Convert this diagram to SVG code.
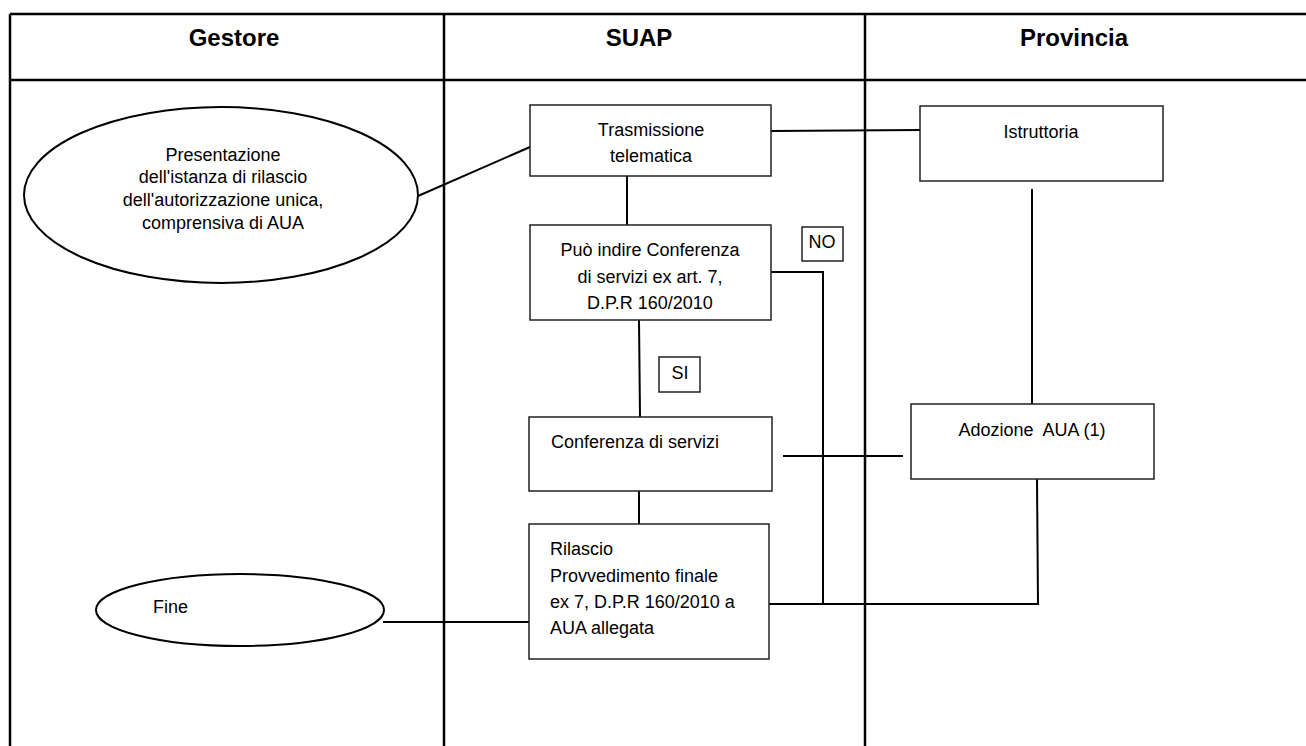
<svg xmlns="http://www.w3.org/2000/svg" width="1306" height="746" viewBox="0 0 1306 746">
<style>
text{font-family:"Liberation Sans",Arial,sans-serif;font-size:18px;fill:#000}
.hdr{font-weight:bold;font-size:24px;text-anchor:middle}
.c{text-anchor:middle}
.box{fill:#fff;stroke:#222;stroke-width:1.5}
.ell{fill:#fff;stroke:#000;stroke-width:2}
.grid{stroke:#000;stroke-width:2.5;fill:none}
.conn line,.conn polyline{stroke:#000;stroke-width:2;fill:none}
</style>
<rect width="1306" height="746" fill="#fff"/>
<g id="table">
<line class="grid" x1="10" y1="14" x2="1306" y2="14"/>
<line class="grid" x1="10" y1="80" x2="1306" y2="80"/>
<line class="grid" x1="10" y1="14" x2="10" y2="746"/>
<line class="grid" x1="444" y1="14" x2="444" y2="746"/>
<line class="grid" x1="865" y1="14" x2="865" y2="746"/>
<text class="hdr" x="234" y="46">Gestore</text>
<text class="hdr" x="639" y="46">SUAP</text>
<text class="hdr" x="1074" y="46">Provincia</text>
</g>
<g class="conn" id="connectors">
<line x1="418" y1="196" x2="530" y2="147"/>
<line x1="771" y1="131" x2="920" y2="130"/>
<line x1="767" y1="155" x2="771" y2="155"/>
<line x1="627" y1="176" x2="627" y2="225"/>
<polyline points="771,272 823,272 823,604"/>
<line x1="624" y1="313" x2="624" y2="320"/>
<line x1="639" y1="320" x2="640" y2="417"/>
<line x1="783" y1="456" x2="903" y2="456"/>
<line x1="1032" y1="189" x2="1032" y2="404"/>
<line x1="639" y1="491" x2="639" y2="524"/>
<polyline points="769,604 1038,604 1037,479"/>
<line x1="383" y1="622" x2="529" y2="622"/>
</g>
<g id="presentazione">
<ellipse class="ell" cx="221" cy="195" rx="197" ry="88"/>
<text class="c" x="223" y="161">Presentazione</text>
<text class="c" x="223" y="183">dell'istanza di rilascio</text>
<text class="c" x="223" y="206">dell'autorizzazione unica,</text>
<text class="c" x="223" y="229">comprensiva di AUA</text>
</g>
<g id="trasmissione">
<rect class="box" x="530" y="105" width="241" height="71"/>
<text class="c" x="651" y="136">Trasmissione</text>
<text class="c" x="651" y="162">telematica</text>
</g>
<g id="istruttoria">
<rect class="box" x="920" y="106" width="243" height="75"/>
<text class="c" x="1041" y="138">Istruttoria</text>
</g>
<g id="puo">
<rect class="box" x="530" y="225" width="241" height="95"/>
<text class="c" x="650" y="256">Può indire Conferenza</text>
<text class="c" x="650" y="283">di servizi ex art. 7,</text>
<text class="c" x="650" y="309">D.P.R 160/2010</text>
</g>
<g id="no">
<rect class="box" x="802" y="227" width="41" height="34"/>
<text class="c" x="822" y="248">NO</text>
</g>
<g id="si">
<rect class="box" x="659" y="357" width="41" height="35"/>
<text class="c" x="680" y="379">SI</text>
</g>
<g id="conferenza">
<rect class="box" x="529" y="417" width="243" height="74"/>
<text x="551" y="448">Conferenza di servizi</text>
</g>
<g id="adozione">
<rect class="box" x="911" y="404" width="243" height="75"/>
<text class="c" x="1032" y="436" xml:space="preserve">Adozione  AUA (1)</text>
</g>
<g id="rilascio">
<rect class="box" x="529" y="524" width="240" height="135"/>
<text x="550" y="555">Rilascio</text>
<text x="550" y="582">Provvedimento finale</text>
<text x="550" y="608">ex 7, D.P.R 160/2010 a</text>
<text x="550" y="634">AUA allegata</text>
</g>
<g id="fine">
<ellipse class="ell" cx="240" cy="610" rx="144" ry="36"/>
<text x="153" y="613">Fine</text>
</g>
</svg>
